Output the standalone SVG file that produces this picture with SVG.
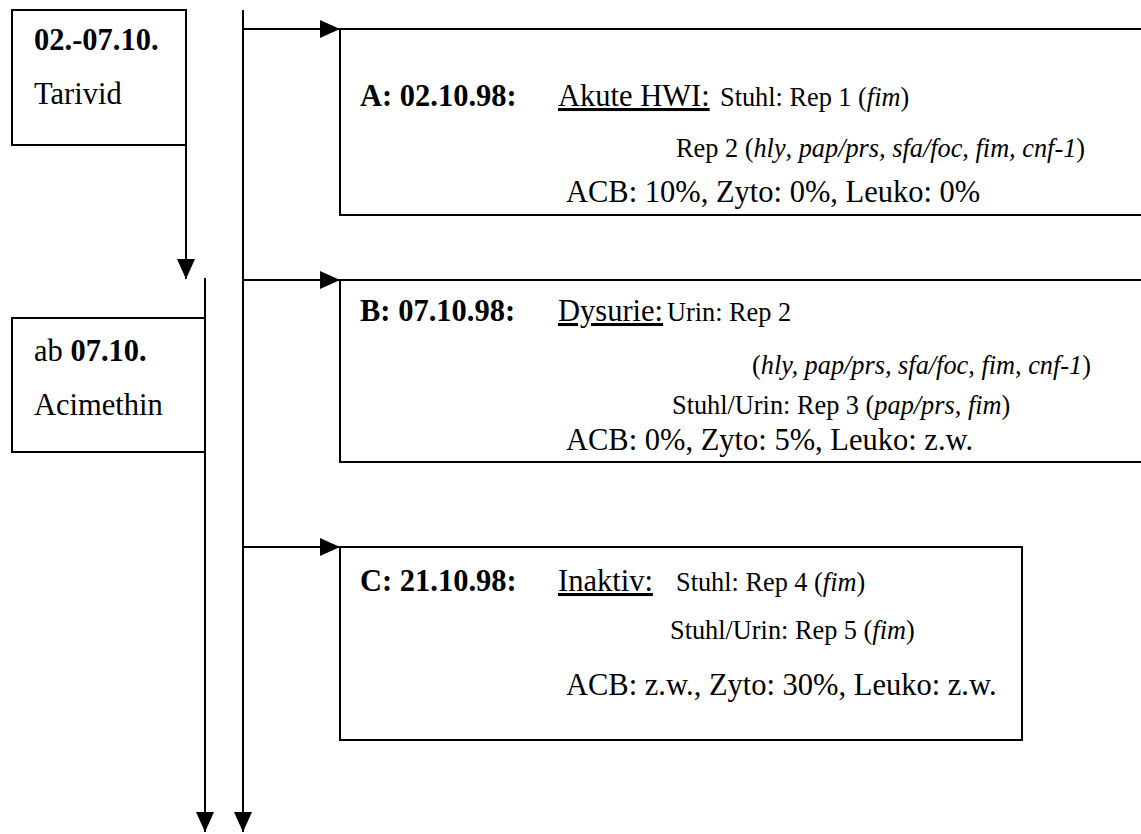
<svg xmlns="http://www.w3.org/2000/svg" width="1141" height="834" viewBox="0 0 1141 834">
<defs>
<marker id="ah" markerWidth="20" markerHeight="20" refX="20" refY="10" orient="auto" markerUnits="userSpaceOnUse">
<path d="M0,1 L20,10 L0,19 Z" fill="#000"/>
</marker>
<style>
.box{fill:#fff;stroke:#000;stroke-width:2}
.ln{fill:none;stroke:#000;stroke-width:2}
text{font-family:"Liberation Serif","Times New Roman",serif;fill:#000}
.L{font-size:30.5px}
.S{font-size:26.3px}
.b{font-weight:bold}
.u{text-decoration:underline}
.i{font-style:italic}
</style>
</defs>
<g id="connectors">
<line class="ln" x1="186" y1="145" x2="186" y2="279" marker-end="url(#ah)"/>
<line class="ln" x1="243" y1="10" x2="243" y2="832" marker-end="url(#ah)"/>
<line class="ln" x1="205" y1="278" x2="205" y2="832" marker-end="url(#ah)"/>
<line class="ln" x1="243" y1="29" x2="340" y2="29" marker-end="url(#ah)"/>
<line class="ln" x1="243" y1="280" x2="340" y2="280" marker-end="url(#ah)"/>
<line class="ln" x1="243" y1="547" x2="340" y2="547" marker-end="url(#ah)"/>
</g>
<g id="tarivid">
<rect class="box" x="12" y="10" width="174" height="135"/>
<text class="L b" x="34" y="50">02.-07.10.</text>
<text class="L" x="34" y="104">Tarivid</text>
</g>
<g id="acimethin">
<rect class="box" x="12" y="318" width="193" height="134"/>
<text class="L" x="34" y="361">ab <tspan class="b">07.10.</tspan></text>
<text class="L" x="34" y="415">Acimethin</text>
</g>
<g id="boxA">
<rect class="box" x="340" y="29" width="820" height="186"/>
<text class="L b" x="360" y="106">A: 02.10.98:</text>
<text class="L u" x="558" y="106">Akute HWI:</text>
<text class="S" x="720" y="106">Stuhl: Rep 1 (<tspan class="i">fim</tspan>)</text>
<text class="S" x="676" y="157">Rep 2 (<tspan class="i">hly</tspan>, <tspan class="i">pap/prs, sfa/foc</tspan>, <tspan class="i">fim, cnf-1</tspan>)</text>
<text class="L" x="566" y="202">ACB: 10%, Zyto: 0%, Leuko: 0%</text>
</g>
<g id="boxB">
<rect class="box" x="340" y="280" width="820" height="182"/>
<text class="L b" x="360" y="321">B: 07.10.98:</text>
<text class="L u" x="558" y="321">Dysurie:</text>
<text class="S" x="667" y="321">Urin: Rep 2</text>
<text class="S" x="752" y="374">(<tspan class="i">hly, pap/prs, sfa/foc</tspan>, <tspan class="i">fim</tspan>, <tspan class="i">cnf-1</tspan>)</text>
<text class="S" x="672" y="414">Stuhl/Urin: Rep 3 (<tspan class="i">pap/prs</tspan>, <tspan class="i">fim</tspan>)</text>
<text class="L" x="566" y="450">ACB: 0%, Zyto: 5%, Leuko: z.w.</text>
</g>
<g id="boxC">
<rect class="box" x="340" y="547" width="682" height="193"/>
<text class="L b" x="360" y="591">C: 21.10.98:</text>
<text class="L u" x="558" y="591">Inaktiv:</text>
<text class="S" x="676" y="591">Stuhl: Rep 4 (<tspan class="i">fim</tspan>)</text>
<text class="S" x="670" y="639">Stuhl/Urin: Rep 5 (<tspan class="i">fim</tspan>)</text>
<text class="L" x="566" y="695">ACB: z.w., Zyto: 30%, Leuko: z.w.</text>
</g>
</svg>
